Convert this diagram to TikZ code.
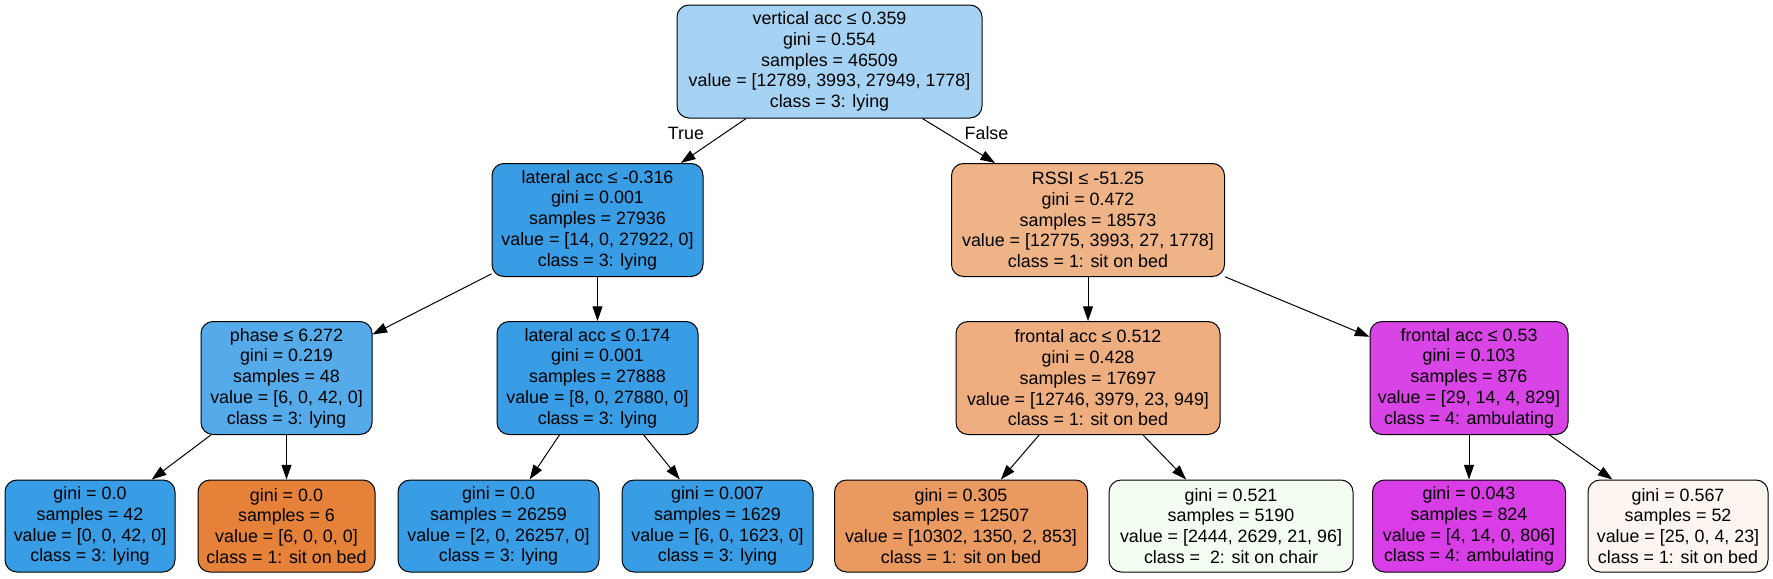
\documentclass[tikz,border=0pt]{standalone}
\usepackage{fontspec}
\setmainfont{Liberation Sans}
\usetikzlibrary{arrows.meta}
\definecolor{c0}{HTML}{A6D3F3}
\definecolor{cblue}{HTML}{399DE5}
\definecolor{cbluea}{HTML}{55ABE9}
\definecolor{corA}{HTML}{EFB388}
\definecolor{corB}{HTML}{EEAE80}
\definecolor{corC}{HTML}{EA9A60}
\definecolor{corD}{HTML}{E58139}
\definecolor{cpurA}{HTML}{D944E6}
\definecolor{cpurB}{HTML}{D83DE6}
\definecolor{cgrn}{HTML}{F3FDF2}
\definecolor{cpale}{HTML}{FDF6F0}
\tikzset{
  tbox/.style={draw=black, line width=0.75pt, rounded corners=9pt, inner sep=0pt,
    align=center, font=\fontsize{13.4}{15.6}\selectfont},
  inner/.style={tbox, minimum height=84.75pt},
  leaf/.style={tbox, minimum height=69pt},
  edge/.style={line width=0.75pt, -{Triangle[length=11pt,width=7.5pt]}},
  elab/.style={font=\fontsize{13.4}{15.6}\selectfont, inner sep=0pt}
}
\begin{document}
\begin{tikzpicture}[x=0.75pt,y=-0.75pt]
\useasboundingbox (0,0) rectangle (1773,578);
% internal nodes
\node[inner, fill=c0, minimum width=228.75pt] (root) at (829.5,61.5)
  {vertical acc ≤ 0.359\\gini = 0.554\\samples = 46509\\value = [12789, 3993, 27949, 1778]\\class = 3: lying};
\node[inner, fill=cblue, minimum width=158.25pt] (n1) at (597.5,220)
  {lateral acc ≤ -0.316\\gini = 0.001\\samples = 27936\\value = [14, 0, 27922, 0]\\class = 3: lying};
\node[inner, fill=corA, minimum width=204.75pt] (n2) at (1088,220)
  {RSSI ≤ -51.25\\gini = 0.472\\samples = 18573\\value = [12775, 3993, 27, 1778]\\class = 1: sit on bed};
\node[inner, fill=cbluea, minimum width=128.25pt] (n3) at (286.5,378)
  {phase ≤ 6.272\\gini = 0.219\\samples = 48\\value = [6, 0, 42, 0]\\class = 3: lying};
\node[inner, fill=cblue, minimum width=150.75pt] (n4) at (597.5,378)
  {lateral acc ≤ 0.174\\gini = 0.001\\samples = 27888\\value = [8, 0, 27880, 0]\\class = 3: lying};
\node[inner, fill=corB, minimum width=198pt] (n5) at (1088,378)
  {frontal acc ≤ 0.512\\gini = 0.428\\samples = 17697\\value = [12746, 3979, 23, 949]\\class = 1: sit on bed};
\node[inner, fill=cpurA, minimum width=148.5pt] (n6) at (1469,378)
  {frontal acc ≤ 0.53\\gini = 0.103\\samples = 876\\value = [29, 14, 4, 829]\\class = 4: ambulating};
% leaves
\node[leaf, fill=cblue, minimum width=127.5pt] (l1) at (90,526)
  {gini = 0.0\\samples = 42\\value = [0, 0, 42, 0]\\class = 3: lying};
\node[leaf, fill=corD, minimum width=132.75pt] (l2) at (286.5,526)
  {gini = 0.0\\samples = 6\\value = [6, 0, 0, 0]\\class = 1: sit on bed};
\node[leaf, fill=cblue, minimum width=150.75pt] (l3) at (498.5,526)
  {gini = 0.0\\samples = 26259\\value = [2, 0, 26257, 0]\\class = 3: lying};
\node[leaf, fill=cblue, minimum width=143.25pt] (l4) at (717.5,526)
  {gini = 0.007\\samples = 1629\\value = [6, 0, 1623, 0]\\class = 3: lying};
\node[leaf, fill=corC, minimum width=189.75pt] (l5) at (961,526)
  {gini = 0.305\\samples = 12507\\value = [10302, 1350, 2, 853]\\class = 1: sit on bed};
\node[leaf, fill=cgrn, minimum width=183pt] (l6) at (1231,526)
  {gini = 0.521\\samples = 5190\\value = [2444, 2629, 21, 96]\\class =\ \ 2: sit on chair};
\node[leaf, fill=cpurB, minimum width=144.75pt] (l7) at (1469,526)
  {gini = 0.043\\samples = 824\\value = [4, 14, 0, 806]\\class = 4: ambulating};
\node[leaf, fill=cpale, minimum width=135pt] (l8) at (1678,526)
  {gini = 0.567\\samples = 52\\value = [25, 0, 4, 23]\\class = 1: sit on bed};
% edges
\draw[edge] (root) -- (n1);
\draw[edge] (root) -- (n2);
\draw[edge] (n1) -- (n3);
\draw[edge] (n1) -- (n4);
\draw[edge] (n2) -- (n5);
\draw[edge] (n2) -- (n6);
\draw[edge] (n3) -- (l1);
\draw[edge] (n3) -- (l2);
\draw[edge] (n4) -- (l3);
\draw[edge] (n4) -- (l4);
\draw[edge] (n5) -- (l5);
\draw[edge] (n5) -- (l6);
\draw[edge] (n6) -- (l7);
\draw[edge] (n6) -- (l8);
% edge labels
\node[elab] (ltrue) at (686,133) {True};
\node[elab] (lfalse) at (986.5,133) {False};
\end{tikzpicture}
\end{document}
